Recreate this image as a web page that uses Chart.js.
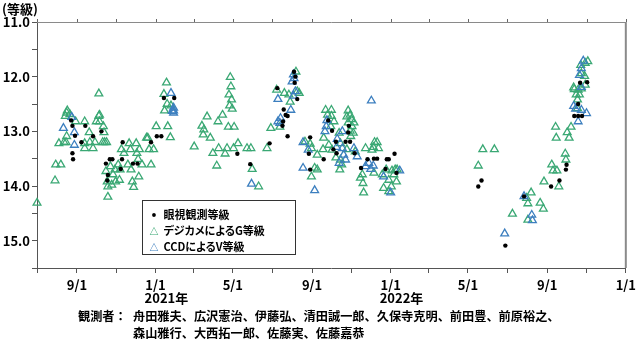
<!DOCTYPE html>
<html lang="ja">
<head>
<meta charset="utf-8">
<script src="https://cdn.jsdelivr.net/npm/chart.js@4.4.1/dist/chart.umd.min.js"></script>
<style>
  body { margin: 0; background: #fff; }
  #marco { position: relative; width: 640px; height: 340px; font-family: "Noto Sans CJK JP", sans-serif; color: #000; }
  #grafico { position: absolute; left: 0; top: 0; }
  #unidad { position: absolute; left: 2px; top: 0px; font-size: 13px; font-weight: bold; line-height: 18px; }
  #leyenda { position: absolute; left: 142px; top: 200px; width: 152px; height: 53px; border: 1.5px solid #333; background: #fff;
             font-size: 11px; font-weight: bold; font-feature-settings: "palt"; }
  #leyenda div { position: absolute; left: 4px; height: 16px; line-height: 16px; white-space: nowrap; }
  #leyenda span { display: inline-block; width: 14px; text-align: center; }
  #observadores { position: absolute; left: 78px; top: 308px; font-size: 12.2px; font-weight: bold; line-height: 17px; }
  #observadores .nombres { position: absolute; left: 55px; top: 0; white-space: nowrap; }
</style>
</head>
<body>
<div id="marco">
  <canvas id="grafico" width="640" height="340"></canvas>
  <div id="unidad">(等級)</div>
  <div id="leyenda"></div>
  <div id="observadores">観測者：<div class="nombres">舟田雅夫、広沢憲治、伊藤弘、清田誠一郎、久保寺克明、前田豊、前原裕之、<br>森山雅行、大西拓一郎、佐藤実、佐藤嘉恭</div></div>
</div>
<script>
// días contados desde 2020-07-01
const xTickDays = [0, 62, 123, 184, 243, 304, 365, 427, 488, 549, 608, 669, 730, 792, 853, 914]
const xTickLabels = ["", "9/1", "", "1/1", "", "5/1", "", "9/1", "", "1/1", "", "5/1", "", "9/1", "", "1/1"]
const yearDays = [184, 549]
const yearLabels = ["2021年", "2022年"]

const seriesNames = ["眼視観測等級", "デジカメによるG等級", "CCDによるV等級"]

// 眼視観測
const visDay = [53, 55, 59, 55, 56, 69, 75, 87, 100, 107, 110, 109, 113, 117, 133, 132, 130, 149, 156, 177, 186, 193, 197, 213,
    311, 331, 361, 373, 381, 382, 383, 386, 389, 389, 399, 400, 401, 404,
    422, 424, 424, 445, 452, 458, 460, 464, 465, 479, 483, 484, 486, 493, 503, 513, 523, 528, 541, 543, 546, 555, 558,
    685, 690, 727, 756, 798, 811, 821, 822, 834, 840, 840, 843, 846, 854]
const visMag = [12.80, 12.90, 13.08, 13.40, 13.51, 13.20, 12.90, 13.09, 13.00, 13.59, 13.80, 13.90, 13.51, 13.51, 13.20, 13.51, 13.69, 13.59, 13.59, 13.20, 13.09, 13.09, 12.39, 12.39,
    13.41, 13.60, 13.22, 12.21, 12.90, 12.82, 12.60, 12.70, 12.72, 13.09, 11.91, 12.11, 12.00, 12.41,
    13.41, 13.11, 13.70, 13.51, 12.80, 12.99, 13.33, 13.19, 13.40, 13.19, 13.02, 12.90, 13.19, 13.40, 13.67, 13.51, 13.50, 13.50, 13.69, 13.51, 13.51, 13.41, 13.76,
    14.01, 13.90, 15.09, 14.19, 14.01, 13.90, 13.70, 13.61, 12.72, 12.72, 12.50, 12.11, 12.72, 12.10]

// デジカメ G
const gDay = [0, 28, 29, 37, 34, 45, 42, 46, 44, 47, 51, 60, 46, 74, 81, 74, 82, 90, 87, 74, 96, 97, 92, 103, 105, 104, 96, 97, 108, 102,
    107, 109, 110, 110, 114, 118, 121, 122, 126, 129, 131, 135, 143, 145, 141, 146, 148, 150, 154, 155, 157, 158, 159, 163,
    170, 172, 174, 177, 181, 185, 203, 207, 201, 197, 202, 198, 208, 116, 128,
    244, 264, 281, 288, 256, 259, 258, 269, 297, 306, 300, 301, 298, 302, 299, 303, 273, 282, 292, 295, 305, 312, 326, 332,
    357, 363, 279, 334, 344, 372, 391, 384, 377, 393, 402, 404, 407,
    448, 457, 451, 457, 461, 456, 445, 483, 486, 481, 488, 483, 492, 489, 486, 469, 416, 424, 426, 435, 444, 471, 481, 471, 470,
    494, 510, 524, 528, 522, 505, 502, 506, 507, 523, 536, 542, 546, 550, 538, 556, 554, 559, 551, 546, 558, 431, 426, 491, 487,
    520, 530, 435, 458, 464, 473, 453,
    692, 710, 685, 738, 760, 767, 762, 762, 781, 786, 787, 810, 799, 801, 807, 820, 821, 805, 806, 823, 829, 826,
    834, 842, 851, 850, 851, 855, 844, 839, 839, 833, 840, 837, 845, 845]
const gMag = [14.31, 13.90, 13.61, 13.61, 13.22, 13.20, 13.20, 12.66, 12.72, 12.62, 12.69, 12.82, 13.09, 12.82, 13.02, 13.22, 13.20, 13.20, 13.31, 13.31, 12.72, 12.82, 12.82, 12.91, 13.20, 13.02, 12.31, 12.70, 13.20, 13.20,
    13.73, 13.92, 14.01, 14.20, 13.64, 13.79, 13.70, 13.92, 13.61, 13.70, 13.33, 13.40, 13.22, 13.33, 13.61, 13.70, 13.92, 14.02, 13.22, 13.40, 13.51, 13.83, 13.33, 13.61,
    13.12, 13.12, 13.33, 13.61, 13.33, 12.91, 12.91, 13.11, 12.11, 12.32, 12.50, 12.62, 12.53, 13.98, 13.89,
    13.28, 12.73, 12.82, 12.70, 12.90, 12.97, 13.06, 13.12, 12.92, 12.92, 12.01, 12.18, 12.33, 12.42, 12.53, 12.59, 13.40, 13.31, 13.41, 13.31, 13.31, 13.22, 13.31, 13.31,
    13.31, 12.94, 13.63, 13.69, 14.01, 12.24, 12.33, 12.30, 12.92, 12.46, 11.91, 12.27, 12.30,
    12.61, 12.61, 12.70, 12.72, 12.82, 12.91, 13.12, 12.62, 12.70, 12.73, 12.78, 12.84, 12.84, 12.91, 12.99, 13.03, 13.19, 13.23, 13.31, 13.43, 13.33, 13.22, 13.33, 13.52, 13.70,
    13.37, 13.31, 13.20, 13.20, 13.29, 13.79, 13.85, 13.95, 14.12, 13.76, 13.79, 13.70, 13.89, 14.01, 14.04, 13.70, 13.79, 13.70, 13.72, 14.10, 13.92, 13.67, 13.83, 13.03, 13.09,
    13.34, 13.31, 13.70, 13.34, 13.48, 13.61, 13.25,
    13.33, 13.33, 13.63, 14.51, 14.22, 14.12, 14.32, 14.62, 14.31, 14.42, 13.92, 14.01, 13.61, 13.72, 13.72, 13.41, 13.52, 12.92, 13.12, 13.02, 12.92, 13.12,
    12.23, 12.33, 12.15, 11.99, 11.75, 11.72, 11.79, 12.42, 12.58, 12.20, 12.24, 12.33, 12.22, 11.94]

// CCD V
const ccdDay = [41, 58, 58, 54, 208, 212, 212, 212, 210, 333, 374, 374, 398, 396, 401, 398, 394, 378, 377, 399,
    431, 519, 450, 449, 447, 474, 466, 413, 421, 465, 474, 476, 479, 469, 492, 515, 510, 522, 518, 538, 549, 413, 563, 497,
    726, 756, 768, 769, 840, 853, 845, 836, 845, 842, 845, 848, 833]
const ccdMag = [12.94, 13.02, 13.25, 12.74, 12.30, 12.57, 12.62, 12.66, 12.63, 13.96, 12.41, 12.82, 11.96, 12.09, 12.27, 12.35, 12.61, 12.76, 12.85, 12.03,
    14.08, 12.44, 12.80, 12.91, 13.00, 13.00, 13.14, 13.20, 13.34, 13.29, 13.31, 13.43, 13.52, 13.58, 13.31, 13.58, 13.64, 13.63, 13.69, 13.83, 14.12, 13.67, 13.72, 13.46,
    14.87, 14.19, 14.53, 14.63, 12.82, 12.67, 12.61, 12.59, 12.19, 11.97, 11.85, 11.71, 12.54]

const colorG = "#3aa874"
const colorV = "#3c7fbf"

function toPoints(days, mags) {
    return days.map((d, i) => ({ x: d, y: mags[i] }))
}

// marco superior/derecho, marcas de arriba y los años bajo el eje
const marcoPlugin = {
    id: "marco",
    afterDraw(chart) {
        const { ctx, chartArea: a, scales: { x } } = chart
        ctx.save()
        ctx.strokeStyle = "#8a8a8a"
        ctx.lineWidth = 1
        ctx.beginPath()
        ctx.moveTo(a.left, a.top + 0.5)
        ctx.lineTo(a.right, a.top + 0.5)
        ctx.stroke()
        ctx.lineWidth = 2
        ctx.beginPath()
        ctx.moveTo(a.right, a.top)
        ctx.lineTo(a.right, a.bottom)
        ctx.stroke()
        ctx.lineWidth = 1
        ctx.strokeStyle = "#666"
        xTickDays.forEach(d => {
            const px = Math.round(x.getPixelForValue(d)) + 0.5
            ctx.beginPath()
            ctx.moveTo(px, a.top)
            ctx.lineTo(px, a.top - 3)
            ctx.stroke()
        })
        ctx.fillStyle = "#000"
        ctx.font = 'bold 13px "Noto Sans CJK JP"'
        ctx.textAlign = "left"
        ctx.textBaseline = "middle"
        yearDays.forEach((d, i) => ctx.fillText(yearLabels[i], x.getPixelForValue(d) - 11, 298))
        ctx.restore()
    }
}

const ctx = document.getElementById("grafico")

new Chart(ctx, {
    type: "scatter",
    data: {
        datasets: [
            { label: seriesNames[0], data: toPoints(visDay, visMag), pointStyle: "circle", pointRadius: 2.2,
              backgroundColor: "#000", borderColor: "#000", borderWidth: 0, order: 0, clip: false },
            { label: seriesNames[1], data: toPoints(gDay, gMag), pointStyle: "triangle", pointRadius: 4.5,
              backgroundColor: "rgba(255,255,255,0)", borderColor: colorG, borderWidth: 1.3, order: 2, clip: false },
            { label: seriesNames[2], data: toPoints(ccdDay, ccdMag), pointStyle: "triangle", pointRadius: 4.5,
              backgroundColor: "rgba(255,255,255,0)", borderColor: colorV, borderWidth: 1.3, order: 1, clip: false }
        ]
    },
    options: {
        responsive: false,
        animation: false,
        devicePixelRatio: 1,
        events: [],
        layout: { padding: { top: 22, right: 12, left: 0, bottom: 0 } },
        plugins: { legend: { display: false }, tooltip: { enabled: false } },
        scales: {
            x: {
                type: "linear",
                min: 0,
                max: 914,
                afterBuildTicks: scale => { scale.ticks = xTickDays.map(v => ({ value: v })) },
                afterFit: scale => { scale.height = 72 },
                ticks: {
                    autoSkip: false,
                    maxRotation: 0,
                    padding: 4,
                    color: "#000",
                    font: { family: "Noto Sans CJK JP", size: 13, weight: "bold" },
                    callback: v => xTickLabels[xTickDays.indexOf(v)]
                },
                grid: { drawOnChartArea: false, tickLength: 5, color: "#555" },
                border: { color: "#555", width: 1 }
            },
            y: {
                min: 11,
                max: 15.5,
                reverse: true,
                afterFit: scale => { scale.width = 37 },
                ticks: {
                    stepSize: 0.5,
                    padding: 2,
                    color: "#000",
                    font: { family: "Noto Sans CJK JP", size: 13, weight: "bold" },
                    callback: v => Number.isInteger(v) ? v.toFixed(1) : ""
                },
                grid: { drawOnChartArea: false, tickLength: 5, color: "#555" },
                border: { color: "#555", width: 1 }
            }
        }
    },
    plugins: [marcoPlugin]
})

// leyenda en HTML
const leyenda = document.getElementById("leyenda")
const marcas = [
    '<span style="font-size:13px">•</span>',
    '<span style="color:' + colorG + ';font-size:9px">△</span>',
    '<span style="color:' + colorV + ';font-size:9px">△</span>'
]
leyenda.innerHTML = seriesNames.map((n, i) => `<div style="top:${5 + i * 16}px">${marcas[i]} ${n}</div>`).join("")
</script>
</body>
</html>
